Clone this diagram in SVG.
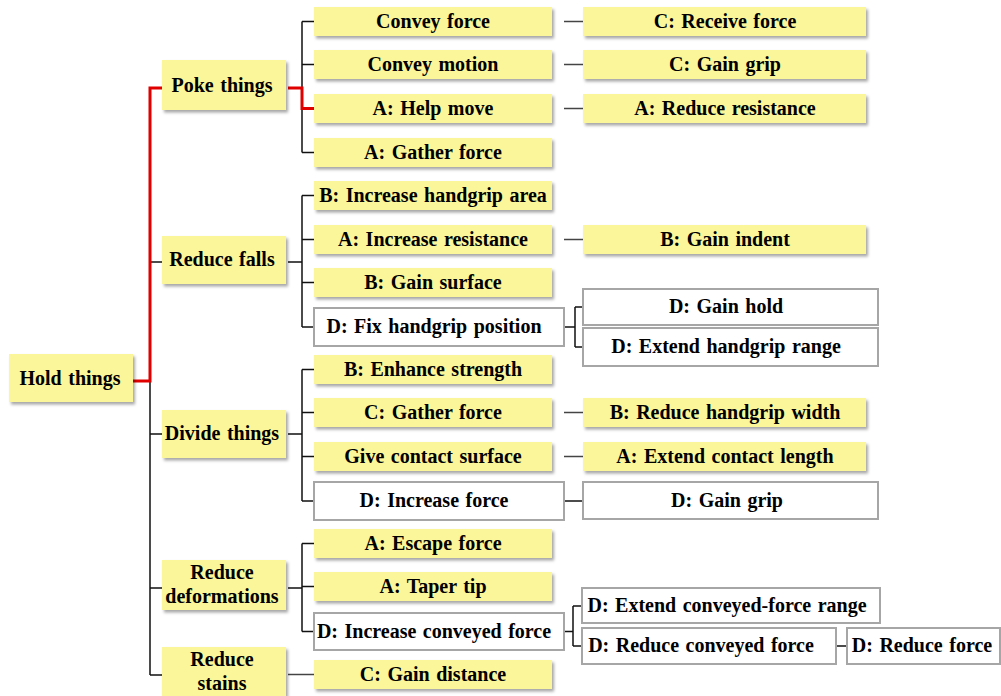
<svg xmlns="http://www.w3.org/2000/svg" width="1001" height="696" viewBox="0 0 1001 696">
<defs>
<filter id="sh" x="-5%" y="-20%" width="115%" height="160%">
<feDropShadow dx="2" dy="2.5" stdDeviation="1.5" flood-color="#000" flood-opacity="0.35"/>
</filter>
</defs>
<style>
.y{fill:#FBF69A;filter:url(#sh)}
.w{fill:#fff;stroke:#A6A6A6;stroke-width:2}
text{font-family:"Liberation Serif","Times New Roman",serif;font-weight:bold;font-size:20px;word-spacing:1.5px;fill:#000;text-anchor:middle}
.c{fill:none;stroke:#111;stroke-width:1.5}
.g{fill:none;stroke:#444;stroke-width:1.5}
.r{fill:none;stroke:#E00000;stroke-width:3}
</style>
<rect width="1001" height="696" fill="#fff"/>
<g id="connectors">
<path class="c" d="M150,381 V675 M150,262 H162 M150,434 H162 M150,588 H162 M150,675 H162"/>
<path class="c" d="M302,21.5 V152.5 M302,21.5 H314 M302,64.5 H314 M302,152.5 H314"/>
<path class="c" d="M288,262 H302 M302,195.5 V327 M302,195.5 H314 M302,239.5 H314 M302,282.5 H314 M302,327 H314"/>
<path class="c" d="M288,434 H302 M302,369.5 V501 M302,369.5 H314 M302,412.5 H314 M302,456.5 H314 M302,501 H314"/>
<path class="c" d="M288,588 H302 M302,543.5 V631.5 M302,543.5 H314 M302,586.5 H314 M302,631.5 H314"/>
<path class="g" d="M288,674.5 H314"/>
<path class="g" d="M564,21.5 H583 M564,64.5 H583 M564,108.5 H583 M564,239.5 H583 M564,412.5 H583 M564,456.5 H583"/>
<path class="c" d="M564,501 H583"/>
<path class="c" d="M564,327 H575 M575,307 V347 M575,307 H583 M575,347 H583"/>
<path class="c" d="M564,631.5 H573 M573,606 V646 M573,606 H582 M573,646 H582 M836,646 H847"/>
<path class="r" d="M133,381 H150 V88 H162"/>
<path class="r" d="M288,88 H302 V108.5 H314"/>
</g>
<g id="n-hold"><rect class="y" x="9" y="354" width="124" height="48"/><text x="70" y="385">Hold things</text></g>
<g id="n-poke"><rect class="y" x="162" y="60" width="124" height="50"/><text x="222" y="92">Poke things</text></g>
<g id="n-falls"><rect class="y" x="162" y="236" width="124" height="48"/><text x="222" y="266">Reduce falls</text></g>
<g id="n-divide"><rect class="y" x="162" y="410" width="124" height="48"/><text x="222" y="440">Divide things</text></g>
<g id="n-deform"><rect class="y" x="162" y="560" width="124" height="50"/><text x="222" y="579">Reduce</text><text x="222" y="603">deformations</text></g>
<g id="n-stains"><rect class="y" x="162" y="647" width="124" height="49"/><text x="222" y="666">Reduce</text><text x="222" y="690">stains</text></g>

<g id="n-convey-force"><rect class="y" x="314" y="7" width="238" height="29"/><text x="433" y="27.5">Convey force</text></g>
<g id="n-convey-motion"><rect class="y" x="314" y="50" width="238" height="29"/><text x="433" y="70.5">Convey motion</text></g>
<g id="n-help-move"><rect class="y" x="314" y="94" width="238" height="29"/><text x="433" y="114.5">A: Help move</text></g>
<g id="n-gather-force-a"><rect class="y" x="314" y="138" width="238" height="29"/><text x="433" y="158.5">A: Gather force</text></g>
<g id="n-handgrip-area"><rect class="y" x="314" y="181" width="238" height="29"/><text x="433" y="201.5">B: Increase handgrip area</text></g>
<g id="n-increase-resistance"><rect class="y" x="314" y="225" width="238" height="29"/><text x="433" y="245.5">A: Increase resistance</text></g>
<g id="n-gain-surface"><rect class="y" x="314" y="268" width="238" height="29"/><text x="433" y="288.5">B: Gain surface</text></g>
<g id="n-fix-handgrip"><rect class="w" x="314" y="308" width="250" height="38"/><text x="434" y="333">D: Fix handgrip position</text></g>
<g id="n-enhance-strength"><rect class="y" x="314" y="355" width="238" height="29"/><text x="433" y="375.5">B: Enhance strength</text></g>
<g id="n-gather-force-c"><rect class="y" x="314" y="398" width="238" height="29"/><text x="433" y="418.5">C: Gather force</text></g>
<g id="n-contact-surface"><rect class="y" x="314" y="442" width="238" height="29"/><text x="433" y="462.5">Give contact surface</text></g>
<g id="n-increase-force"><rect class="w" x="314" y="482" width="250" height="38"/><text x="434" y="507">D: Increase force</text></g>
<g id="n-escape-force"><rect class="y" x="314" y="529" width="238" height="29"/><text x="433" y="549.5">A: Escape force</text></g>
<g id="n-taper-tip"><rect class="y" x="314" y="572" width="238" height="29"/><text x="433" y="592.5">A: Taper tip</text></g>
<g id="n-increase-conveyed"><rect class="w" x="314" y="613" width="250" height="37"/><text x="434" y="637.5">D: Increase conveyed force</text></g>
<g id="n-gain-distance"><rect class="y" x="314" y="660" width="238" height="29"/><text x="433" y="680.5">C: Gain distance</text></g>

<g id="n-receive-force"><rect class="y" x="583" y="7" width="283" height="29"/><text x="725" y="27.5">C: Receive force</text></g>
<g id="n-gain-grip-c"><rect class="y" x="583" y="50" width="283" height="29"/><text x="725" y="70.5">C: Gain grip</text></g>
<g id="n-reduce-resistance"><rect class="y" x="583" y="94" width="283" height="29"/><text x="725" y="114.5">A: Reduce resistance</text></g>
<g id="n-gain-indent"><rect class="y" x="583" y="225" width="283" height="29"/><text x="725" y="245.5">B: Gain indent</text></g>
<g id="n-gain-hold"><rect class="w" x="583" y="289" width="295" height="36"/><text x="726" y="313">D: Gain hold</text></g>
<g id="n-extend-handgrip"><rect class="w" x="583" y="328" width="295" height="38"/><text x="726" y="353">D: Extend handgrip range</text></g>
<g id="n-reduce-width"><rect class="y" x="583" y="398" width="283" height="29"/><text x="725" y="418.5">B: Reduce handgrip width</text></g>
<g id="n-extend-contact"><rect class="y" x="583" y="442" width="283" height="29"/><text x="725" y="462.5">A: Extend contact length</text></g>
<g id="n-gain-grip-d"><rect class="w" x="583" y="482" width="295" height="37"/><text x="727" y="506.5">D: Gain grip</text></g>
<g id="n-extend-conveyed"><rect class="w" x="582" y="588" width="298" height="35"/><text x="727" y="611.5">D: Extend conveyed-force range</text></g>
<g id="n-reduce-conveyed"><rect class="w" x="582" y="628" width="254" height="36"/><text x="701" y="652">D: Reduce conveyed force</text></g>
<g id="n-reduce-force"><rect class="w" x="847" y="628" width="153" height="36"/><text x="922" y="652">D: Reduce force</text></g>
</svg>
